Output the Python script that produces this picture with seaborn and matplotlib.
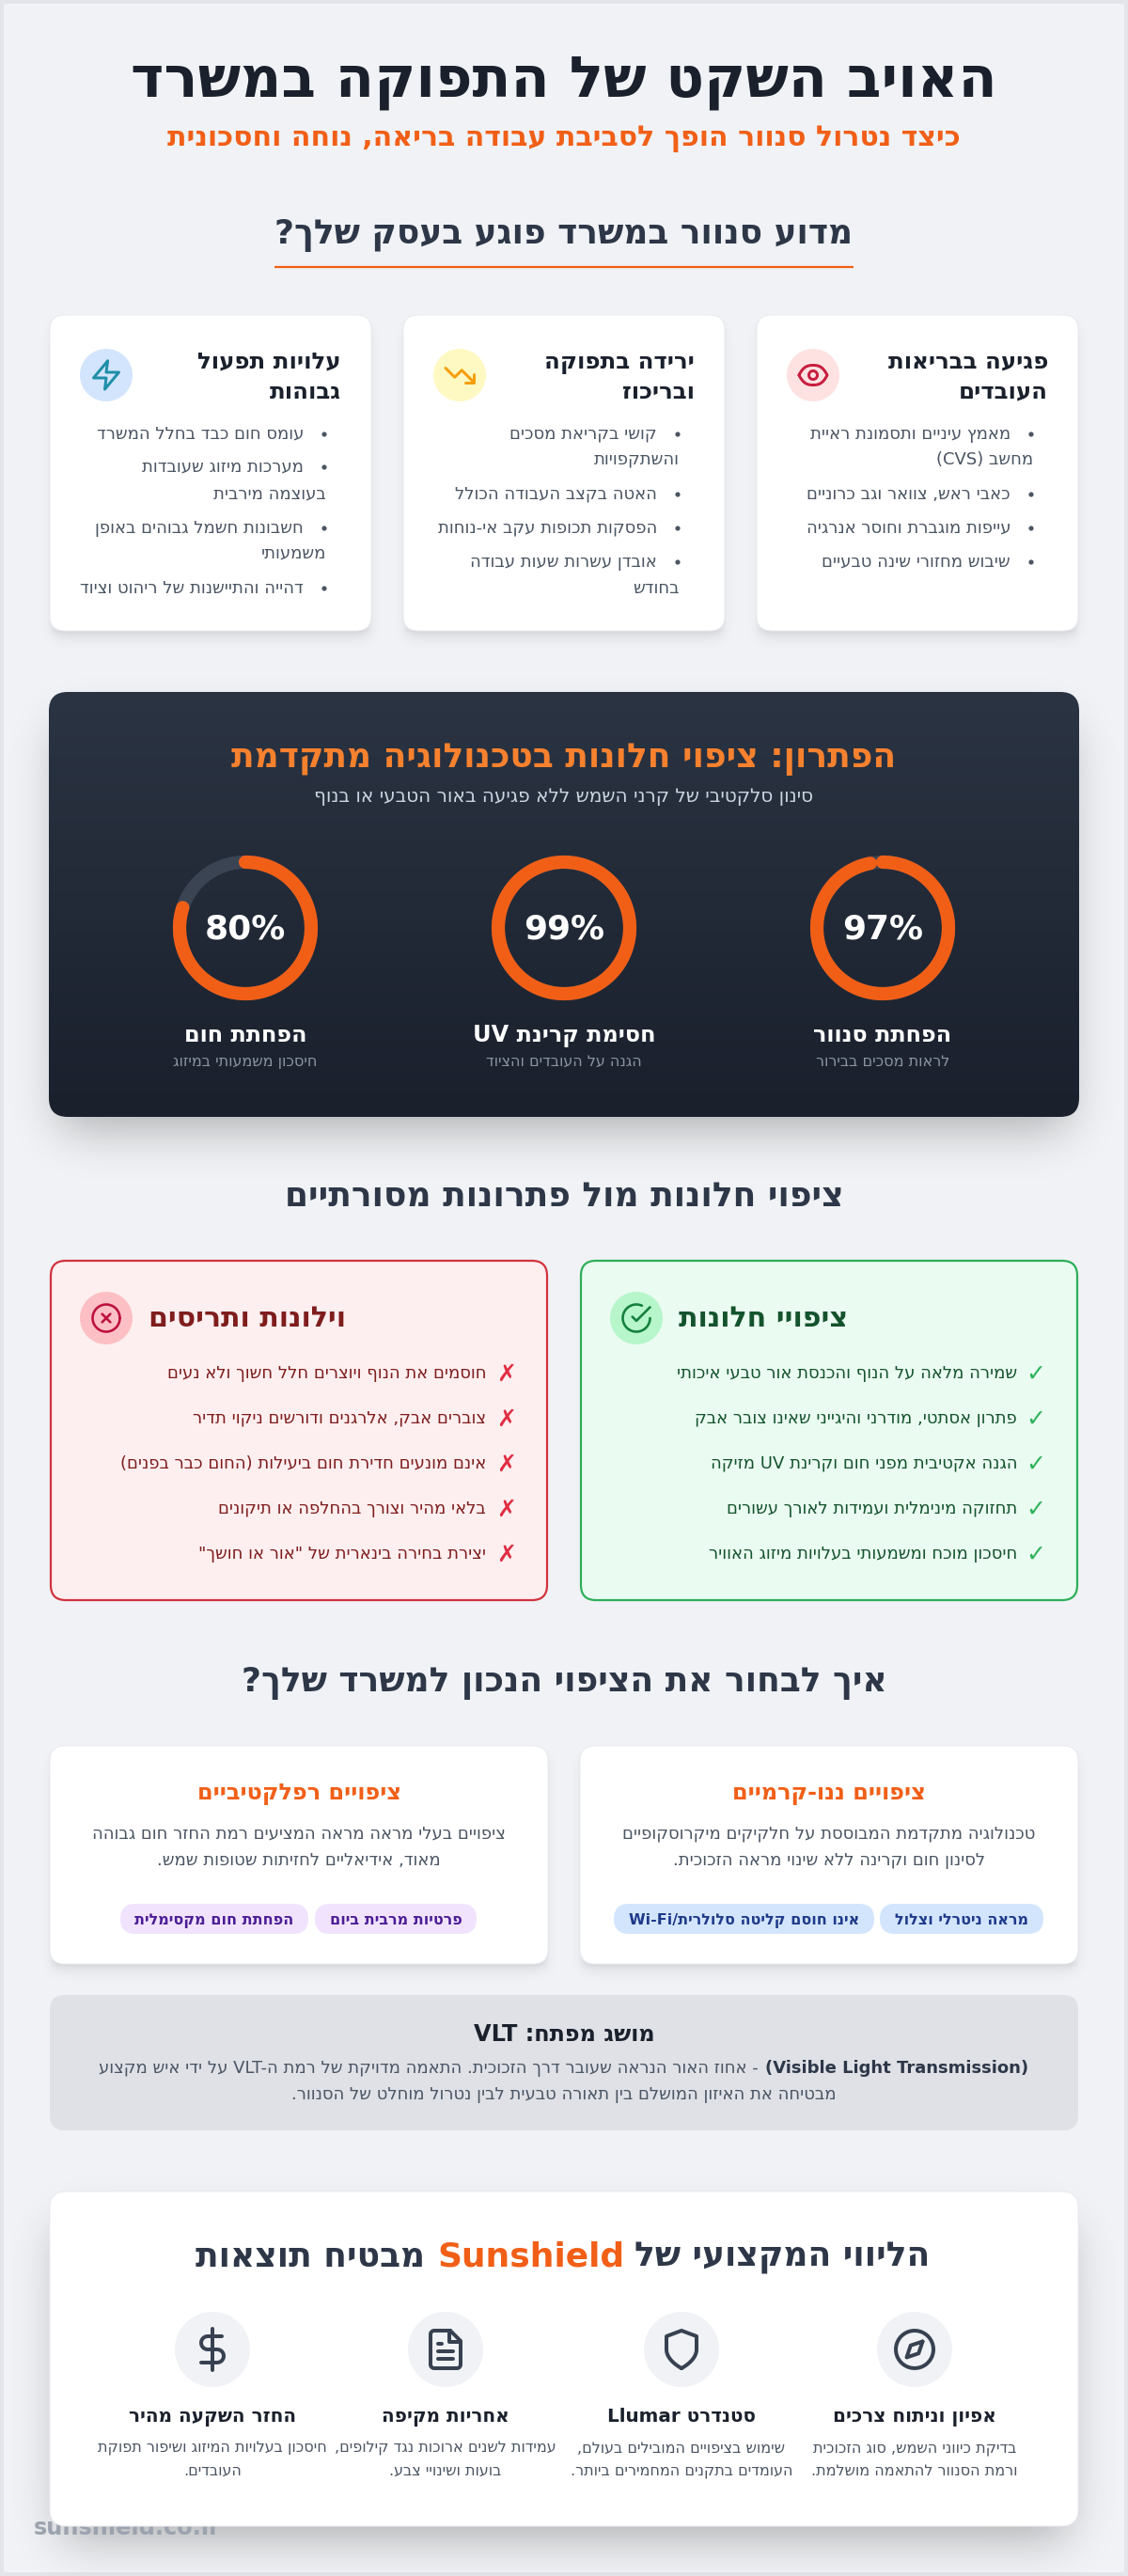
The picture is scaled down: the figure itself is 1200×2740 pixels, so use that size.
import math
import re
import numpy as np
import pandas as pd
import seaborn as sns
import matplotlib
matplotlib.use("Agg")
import matplotlib.pyplot as plt
from matplotlib.patches import FancyBboxPatch, Circle, Rectangle

# ---------- data ----------
main_title = "האויב השקט של התפוקה במשרד"
subtitle = "כיצד נטרול סנוור הופך לסביבת עבודה בריאה, נוחה וחסכונית"
heading_why = "מדוע סנוור במשרד פוגע בעסק שלך?"
card_titles = [["פגיעה בבריאות", "העובדים"], ["ירידה בתפוקה", "ובריכוז"], ["עלויות תפעול", "גבוהות"]]
card_items = [
    [["מאמץ עיניים ותסמונת ראיית", "מחשב (CVS)"], ["כאבי ראש, צוואר וגב כרוניים"],
     ["עייפות מוגברת וחוסר אנרגיה"], ["שיבוש מחזורי שינה טבעיים"]],
    [["קושי בקריאת מסכים", "והשתקפויות"], ["האטה בקצב העבודה הכולל"],
     ["הפסקות תכופות עקב אי-נוחות"], ["אובדן עשרות שעות עבודה", "בחודש"]],
    [["עומס חום כבד בחלל המשרד"], ["מערכות מיזוג שעובדות", "בעוצמה מירבית"],
     ["חשבונות חשמל גבוהים באופן", "משמעותי"], ["דהייה והתיישנות של ריהוט וציוד"]],
]
solution_title = "הפתרון: ציפוי חלונות בטכנולוגיה מתקדמת"
solution_sub = "סינון סלקטיבי של קרני השמש ללא פגיעה באור הטבעי או בנוף"
ring_values = [97, 99, 80]
ring_labels = ["הפחתת סנוור", "חסימת קרינת UV", "הפחתת חום"]
ring_subs = ["לראות מסכים בבירור", "הגנה על העובדים והציוד", "חיסכון משמעותי במיזוג"]
heading_vs = "ציפוי חלונות מול פתרונות מסורתיים"
good_title = "ציפויי חלונות"
good_items = ["שמירה מלאה על הנוף והכנסת אור טבעי איכותי", "פתרון אסתטי, מודרני והיגייני שאינו צובר אבק",
              "הגנה אקטיבית מפני חום וקרינת UV מזיקה", "תחזוקה מינימלית ועמידות לאורך עשורים",
              "חיסכון מוכח ומשמעותי בעלויות מיזוג האוויר"]
bad_title = "וילונות ותריסים"
bad_items = ["חוסמים את הנוף ויוצרים חלל חשוך ולא נעים", "צוברים אבק, אלרגנים ודורשים ניקוי תדיר",
             "אינם מונעים חדירת חום ביעילות (החום כבר בפנים)", "בלאי מהיר וצורך בהחלפה או תיקונים",
             "יצירת בחירה בינארית של \"אור או חושך\""]
heading_choose = "איך לבחור את הציפוי הנכון למשרד שלך?"
type_titles = ["ציפויים ננו-קרמיים", "ציפויים רפלקטיביים"]
type_bodies = [["טכנולוגיה מתקדמת המבוססת על חלקיקים מיקרוסקופיים", "לסינון חום וקרינה ללא שינוי מראה הזכוכית."],
               ["ציפויים בעלי מראה מראה המציעים רמת החזר חום גבוהה", "מאוד, אידיאליים לחזיתות שטופות שמש."]]
type_tags = [["מראה ניטרלי וצלול", "אינו חוסם קליטה סלולרית/Wi-Fi"], ["פרטיות מרבית ביום", "הפחתת חום מקסימלית"]]
vlt_title = "מושג מפתח: VLT"
vlt_bold = "(Visible Light Transmission)"
vlt_line1 = "- אחוז האור הנראה שעובר דרך הזכוכית. התאמה מדויקת של רמת ה-VLT על ידי איש מקצוע"
vlt_line2 = "מבטיחה את האיזון המושלם בין תאורה טבעית לבין נטרול מוחלט של הסנוור."
brand_parts = ["הליווי המקצועי של", "Sunshield", "מבטיח תוצאות"]
feature_titles = ["אפיון וניתוח צרכים", "סטנדרט Llumar", "אחריות מקיפה", "החזר השקעה מהיר"]
feature_bodies = [["בדיקת כיווני השמש, סוג הזכוכית", "ורמת הסנוור להתאמה מושלמת."],
                  ["שימוש בציפויים המובילים בעולם,", "העומדים בתקנים המחמירים ביותר."],
                  ["עמידות לשנים ארוכות נגד קילופים,", "בועות ושינויי צבע."],
                  ["חיסכון בעלויות המיזוג ושיפור תפוקת", "העובדים."]]
watermark = "sunshield.co.il"

# ---------- palette ----------
ORANGE = "#f15f17"
INK = "#1a202c"
SLATE = "#2d3748"
BODY = "#4b5563"
PAGE = "#f0f2f5"
EDGE = "#e2e4ea"

sns.set_theme(style="white", rc={"axes.grid": False})
plt.rcParams["font.family"] = ["DejaVu Sans"]

W, H = 1200, 2740
fig = plt.figure(figsize=(W / 100, H / 100), dpi=100, facecolor=EDGE)
ax = fig.add_axes([0, 0, 1, 1])
ax.set_axis_off()


def vis(s):
    """Hebrew logical order to visual order, keeping Latin/number runs."""
    r = s[::-1]
    r = re.sub(r"[A-Za-z0-9][A-Za-z0-9\-\.]*[A-Za-z0-9]", lambda m: m.group(0)[::-1], r)
    return r.translate(str.maketrans("()", ")("))


def T(x, y, s, px, color=INK, weight="normal", ha="center", rtl=True, z=10):
    dy = 0.36 if px <= 16 else (0.32 if px < 30 else 0.30)
    ax.text(x, y + dy * px, vis(s) if rtl else s, fontsize=px * 0.72, color=color, fontweight=weight,
            ha=ha, va="baseline", zorder=z)


def rbox(x0, y0, x1, y1, r, fc, ec="none", lw=0, z=3):
    p = FancyBboxPatch((x0, y0), x1 - x0, y1 - y0, boxstyle=f"round,pad=0,rounding_size={r}",
                       fc=fc, ec=ec, lw=lw, zorder=z, mutation_aspect=1)
    ax.add_patch(p)
    return p


_erf = np.vectorize(math.erf)


def shadow(x0, y0, x1, y1, dy, blur, spread, a, z=1):
    sig = blur / 2
    m = 3 * sig + 2
    X0, X1, Y0, Y1 = x0 - spread, x1 + spread, y0 + dy - spread, y1 + dy + spread
    xs = np.arange(X0 - m, X1 + m)
    ys = np.arange(Y0 - m, Y1 + m)
    k = sig * math.sqrt(2)
    fx = 0.5 * (_erf((xs - X0) / k) - _erf((xs - X1) / k))
    fy = 0.5 * (_erf((ys - Y0) / k) - _erf((ys - Y1) / k))
    img = np.zeros((len(ys), len(xs), 4))
    img[..., 3] = a * np.outer(fy, fx)
    ax.imshow(img, extent=(xs[0], xs[-1], ys[-1], ys[0]), aspect="auto", zorder=z, interpolation="bilinear")


def arc(cx, cy, r, a1, a2, n=40):
    t = np.radians(np.linspace(a1, a2, n))
    return list(zip(cx + r * np.cos(t), cy + r * np.sin(t)))


def bez(p0, p1, p2, p3, n=24):
    t = np.linspace(0, 1, n)[:, None]
    p0, p1, p2, p3 = map(np.array, (p0, p1, p2, p3))
    pts = (1 - t) ** 3 * p0 + 3 * (1 - t) ** 2 * t * p1 + 3 * (1 - t) * t ** 2 * p2 + t ** 3 * p3
    return [tuple(q) for q in pts]


ICONS = {
    "eye": [bez((2, 12), (5, 6), (8, 5), (12, 5)) + bez((12, 5), (16, 5), (19, 6), (22, 12))
            + bez((22, 12), (19, 18), (16, 19), (12, 19)) + bez((12, 19), (8, 19), (5, 18), (2, 12)),
            arc(12, 12, 3, 0, 360)],
    "down": [[(22, 17), (13.5, 8.5), (8.5, 13.5), (2, 7)], [(16, 17), (22, 17), (22, 11)]],
    "zap": [[(13, 2), (3, 14), (12, 14), (11, 22), (21, 10), (12, 10), (13, 2)]],
    "xc": [arc(12, 12, 10, 0, 360), [(15, 9), (9, 15)], [(9, 9), (15, 15)]],
    "ok": [arc(12, 12, 10, 0, 294), [(9, 11), (12, 14), (22, 4)]],
    "compass": [arc(12, 12, 10, 0, 360), [(16.24, 7.76), (14.12, 14.12), (7.76, 16.24), (9.88, 9.88), (16.24, 7.76)]],
    "shield": [bez((12, 22), (12, 22), (20, 18), (20, 12)) + [(20, 5), (12, 2), (4, 5), (4, 12)]
               + bez((4, 12), (4, 18), (12, 22), (12, 22))],
    "file": [[(14.5, 2)] + arc(6, 4, 2, -90, -180, 8) + arc(6, 20, 2, 180, 90, 8) + arc(18, 20, 2, 90, 0, 8)
             + [(20, 7.5), (14.5, 2)], [(14, 2), (14, 8), (20, 8)], [(16, 13), (8, 13)], [(16, 17), (8, 17)],
             [(10, 9), (8, 9)]],
    "dollar": [[(12, 1), (12, 23)],
               [(17, 5)] + arc(9.5, 8.5, 3.5, -90, -270, 16) + arc(14.5, 15.5, 3.5, -90, 90, 16) + [(6, 19)]],
}


def icon(name, cx, cy, scale, color, lw=2):
    for pts in ICONS[name]:
        a = np.array(pts)
        ax.plot(cx + (a[:, 0] - 12) * scale, cy + (a[:, 1] - 12) * scale, color=color,
                lw=lw * scale * 0.72, solid_capstyle="round", solid_joinstyle="round", zorder=8)


# ---------- page ----------
ax.add_patch(Rectangle((4, 4), W - 8, H - 8, fc=PAGE, ec="none", zorder=0))
T(600, 85, main_title, 60, INK, "bold")
T(600, 146, subtitle, 30, ORANGE, "bold")
T(600, 248, heading_why, 36, SLATE, "bold")
ax.plot([292, 908], [284, 284], color=ORANGE, lw=1.6, zorder=4, solid_capstyle="butt")

# ---------- problem cards ----------
card_x = [(805, 1147), (429, 771), (53, 395)]
card_icon = [("eye", "#fee2e2", "#c81e3e"), ("down", "#fef9c3", "#f59e0b"), ("zap", "#d3e5fd", "#1f8fa8")]
card_lines_y = [
    [[461, 488], [525], [561], [597]],
    [[461, 488], [525], [561], [597, 625]],
    [[461], [496, 525], [561, 588], [625]],
]
for i, (x0, x1) in enumerate(card_x):
    shadow(x0, 335, x1, 671, 10, 15, -3, .10)
    shadow(x0, 335, x1, 671, 4, 6, -2, .05)
    rbox(x0, 335, x1, 671, 16, "white", ec="#e9ebef", lw=0.7)
    hx = x1 - 32
    T(hx, 384, card_titles[i][0], 24.5, INK, "bold", ha="right")
    T(hx, 416, card_titles[i][1], 24.5, INK, "bold", ha="right")
    name, bg, fg = card_icon[i]
    ax.add_patch(Circle((x0 + 60, 399), 28, fc=bg, ec="none", zorder=5))
    icon(name, x0 + 60, 399, 1.5, fg)
    for lines, ys in zip(card_items[i], card_lines_y[i]):
        ax.add_patch(Circle((hx - 18, ys[0] + 1), 2.6, fc=BODY, ec="none", zorder=8))
        T(hx - 40, ys[0], lines[0], 18, BODY, ha="right")
        if len(lines) > 1:
            T(hx - 16, ys[1], lines[1], 18, BODY, ha="right")

# ---------- dark solution panel ----------
shadow(52, 736, 1148, 1188, 25, 50, -12, .28)
panel = rbox(52, 736, 1148, 1188, 20, "none", z=3)
grad = np.linspace(0, 1, 256)[:, None]
cmap = matplotlib.colors.LinearSegmentedColormap.from_list("g", ["#2b3443", "#1a202c"])
im = ax.imshow(grad, cmap=cmap, extent=(52, 1148, 1188, 736), aspect="auto", zorder=3, vmin=0, vmax=1)
im.set_clip_path(panel)
T(600, 805, solution_title, 36, "#f6812e", "bold")
T(600, 847, solution_sub, 20, "#cbd5e0")

ring_cx = [939, 600, 261]
RING_Y = 987
for cx, v, lab, sub in zip(ring_cx, ring_values, ring_labels, ring_subs):
    side = 168
    rax = fig.add_axes([(cx - side / 2) / W, 1 - (RING_Y + side / 2) / H, side / W, side / H], projection="polar")
    rax.patch.set_alpha(0)
    rax.set_theta_zero_location("N")
    rax.set_theta_direction(-1)
    for pct, col, cap in ((100, "#3b4453", "butt"), (v, ORANGE, "round")):
        th = np.linspace(0, 2 * np.pi * pct / 100, 240)
        df = pd.DataFrame({"theta": th, "r": 1.0})
        sns.lineplot(data=df, x="theta", y="r", ax=rax, color=col, linewidth=10.2, sort=False,
                     errorbar=None, solid_capstyle=cap)
    rax.set_ylim(0, 1.2)
    rax.set_axis_off()
    T(cx, RING_Y + 1, f"{v}%", 36, "white", "bold", rtl=False)
    T(cx, 1100, lab, 24, "white", "bold")
    T(cx, 1128, sub, 16, "#8a94a3")

# ---------- comparison ----------
T(600, 1272, heading_vs, 36, SLATE, "bold")
cmp_boxes = [
    (617, 1147, "#eafbf1", "#2eae5b", "#b6f6ca", "ok", "#15803d", 677, good_title, 901.5, "#14532d", good_items,
     "✓", "#2fb35a", 1082, 1102),
    (53, 583, "#fdeff0", "#d1323f", "#fcc0c4", "xc", "#be123c", 113, bad_title, 368.5, "#7f1d1d", bad_items,
     "✗", "#e02d42", 517, 539),
]
for x0, x1, fill, line, circ, ic, icol, icx, title, tx, tcol, items, mark, mcol, irx, mx in cmp_boxes:
    rbox(x0 + 1, 1341, x1 - 1, 1702, 16, fill, ec=line, lw=1.6)
    ax.add_patch(Circle((icx, 1402), 28, fc=circ, ec="none", zorder=5))
    icon(ic, icx, 1402, 1.45, icol, lw=1.8)
    T(tx, 1402, title, 30, tcol, "bold", ha="right")
    for k, item in enumerate(items):
        y = 1460 + 48 * k
        T(irx, y, item, 18, tcol, ha="right")
        T(mx, y + 1, mark, 25, mcol, "bold", rtl=False)

# ---------- coating types ----------
T(600, 1788, heading_choose, 36, SLATE, "bold")
type_x = [(617, 1147), (53, 583)]
pill_x = [[(936, 1110), (653, 930)], [(335, 507), (128, 328)]]
pill_col = [("#d3e5fd", "#1e3a8a"), ("#f1e3fd", "#4c1d95")]
for i, (x0, x1) in enumerate(type_x):
    shadow(x0, 1857, x1, 2089, 10, 15, -3, .10)
    shadow(x0, 1857, x1, 2089, 4, 6, -2, .05)
    rbox(x0, 1857, x1, 2089, 16, "white", ec="#e9ebef", lw=0.7)
    mid = (x0 + x1) / 2
    T(mid, 1906, type_titles[i], 24, ORANGE, "bold")
    T(mid, 1950, type_bodies[i][0], 18, BODY)
    T(mid, 1978, type_bodies[i][1], 18, BODY)
    for (a, b), tag in zip(pill_x[i], type_tags[i]):
        rbox(a, 2025, b, 2057, 16, pill_col[i][0], z=5)
        T((a + b) / 2, 2041, tag, 16, pill_col[i][1], "bold")

# ---------- VLT ----------
rbox(53, 2122, 1147, 2266, 16, "#dfe1e7", z=2)
T(600, 2163, vlt_title, 24, INK, "bold")
T(1094, 2199, vlt_bold, 18, SLATE, "bold", ha="right", rtl=False)
T(807, 2199, vlt_line1, 18, BODY, ha="right")
T(600, 2227, vlt_line2, 18, BODY)

# ---------- partners ----------
shadow(53, 2331, 1147, 2687, 25, 50, -12, .28)
ax.text(36, 2696, watermark, fontsize=24 * 0.72, color="#9ca3af", fontweight="bold", ha="left", va="baseline", zorder=2)
rbox(53, 2331, 1147, 2687, 18, "white", ec="#e9ebef", lw=0.7, z=3)
T(989, 2400, brand_parts[0], 36, SLATE, "bold", ha="right")
T(565, 2400, brand_parts[1], 36, ORANGE, "bold", rtl=False)
T(208, 2400, brand_parts[2], 36, SLATE, "bold", ha="left")
feat_x = [973, 725, 474, 226]
feat_icon = ["compass", "shield", "file", "dollar"]
for fx, ic, title, body in zip(feat_x, feat_icon, feature_titles, feature_bodies):
    ax.add_patch(Circle((fx, 2499), 40, fc=PAGE, ec="none", zorder=5))
    icon(ic, fx, 2499, 2, "#374151")
    T(fx, 2570, title, 20, INK, "bold")
    T(fx, 2603, body[0], 16, BODY)
    T(fx, 2627, body[1], 16, BODY)

ax.set_xlim(0, W)
ax.set_ylim(H, 0)
fig.savefig("out.png", dpi=100, facecolor=EDGE)
